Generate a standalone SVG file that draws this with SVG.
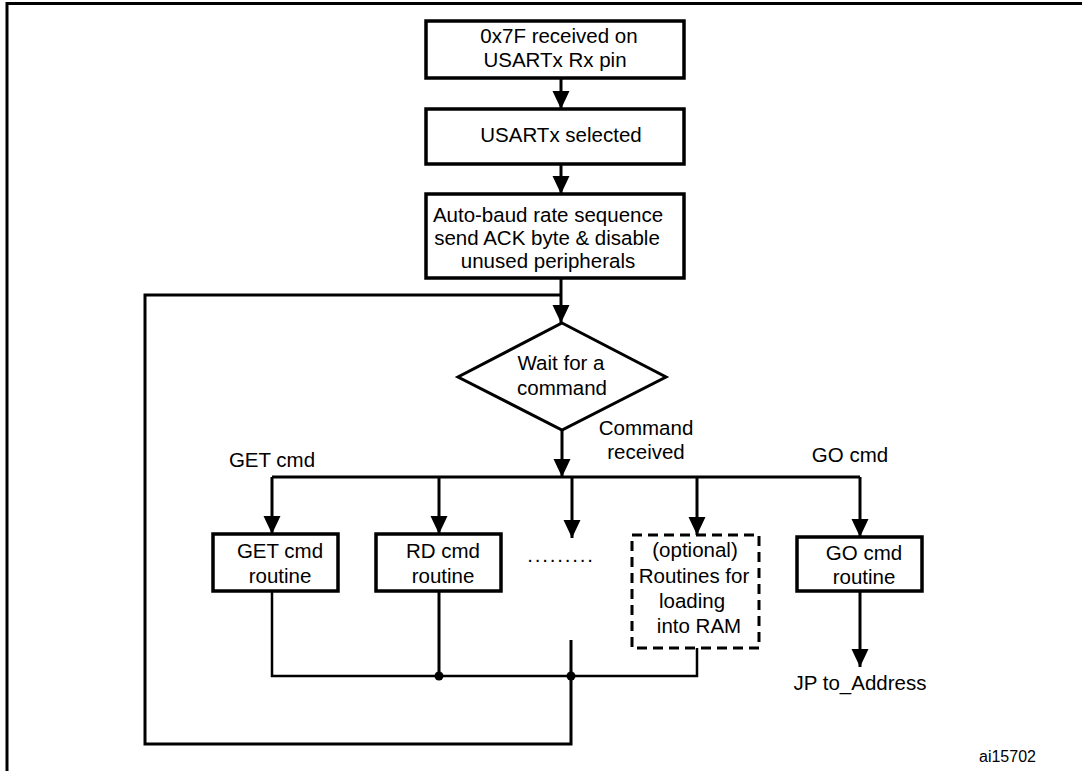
<svg xmlns="http://www.w3.org/2000/svg" width="1082" height="771" viewBox="0 0 1082 771">
<style>
.box{fill:#fff;stroke:#000;stroke-width:3.5}
.dash{fill:#fff;stroke:#000;stroke-width:3;stroke-dasharray:10 6}
.ln{fill:none;stroke:#000;stroke-width:3}
.thin{fill:none;stroke:#000;stroke-width:2.5}
.t{font-family:"Liberation Sans",Arial,sans-serif;font-size:20.5px;fill:#000;text-anchor:middle}
.s{font-family:"Liberation Sans",Arial,sans-serif;font-size:16px;fill:#000}
</style>
<defs>
<marker id="ah" markerUnits="userSpaceOnUse" markerWidth="20" markerHeight="18" refX="18" refY="9" orient="auto">
<path d="M0,0.5 L18,9 L0,17.5 z" fill="#000"/>
</marker>
</defs>
<rect width="1082" height="771" fill="#fff"/>
<g id="frame">
<path d="M7,771 V3.5 H1082" fill="none" stroke="#000" stroke-width="3"/>
</g>
<g id="connectors">
<line class="ln" x1="561" y1="78" x2="561" y2="109" marker-end="url(#ah)"/>
<line class="ln" x1="561" y1="164" x2="561" y2="194" marker-end="url(#ah)"/>
<line class="ln" x1="561" y1="278" x2="561" y2="323" marker-end="url(#ah)"/>
<path class="ln" d="M571,640 V744 H145 V295 H561"/>
<line class="ln" x1="562" y1="430" x2="562" y2="477" marker-end="url(#ah)"/>
<line class="ln" x1="272" y1="477" x2="860" y2="477"/>
<line class="ln" x1="272" y1="477" x2="272" y2="534" marker-end="url(#ah)"/>
<line class="ln" x1="439" y1="477" x2="439" y2="534" marker-end="url(#ah)"/>
<line class="ln" x1="572" y1="477" x2="572" y2="538" marker-end="url(#ah)"/>
<line class="ln" x1="697" y1="477" x2="697" y2="535" marker-end="url(#ah)"/>
<line class="ln" x1="860" y1="477" x2="860" y2="537" marker-end="url(#ah)"/>
<path class="thin" d="M272,591 V676 H697 V648"/>
<line class="ln" x1="439" y1="591" x2="439" y2="676"/>
<circle cx="439" cy="676" r="4.5" fill="#000"/>
<circle cx="571" cy="676" r="4.5" fill="#000"/>
<line class="ln" x1="860" y1="591" x2="860" y2="667" marker-end="url(#ah)"/>
</g>
<g id="n-rx">
<rect class="box" x="426" y="21" width="258" height="57"/>
<text class="t" x="559" y="43">0x7F received on</text>
<text class="t" x="555" y="67">USARTx Rx pin</text>
</g>
<g id="n-sel">
<rect class="box" x="426" y="109" width="258" height="55"/>
<text class="t" x="561" y="142">USARTx selected</text>
</g>
<g id="n-auto">
<rect class="box" x="426" y="194" width="258" height="84"/>
<text class="t" x="548" y="222">Auto-baud rate sequence</text>
<text class="t" x="547" y="245">send ACK byte &amp; disable</text>
<text class="t" x="548" y="268">unused peripherals</text>
</g>
<g id="n-wait">
<polygon points="562,323 666,377 562,430 458,377" fill="#fff" stroke="#000" stroke-width="3"/>
<text class="t" x="561" y="370">Wait for a</text>
<text class="t" x="562" y="395">command</text>
</g>
<g id="labels">
<text class="t" x="646" y="435">Command</text>
<text class="t" x="646" y="459">received</text>
<text class="t" x="272" y="467">GET cmd</text>
<text class="t" x="850" y="462">GO cmd</text>
<text class="t" x="860" y="690">JP to_Address</text>
<text class="t" x="561" y="562" letter-spacing="1.8">.........</text>
</g>
<g id="n-get">
<rect class="box" x="213" y="534" width="125" height="57"/>
<text class="t" x="280" y="558">GET cmd</text>
<text class="t" x="280" y="583">routine</text>
</g>
<g id="n-rd">
<rect class="box" x="376" y="534" width="125" height="57"/>
<text class="t" x="443" y="558">RD cmd</text>
<text class="t" x="443" y="583">routine</text>
</g>
<g id="n-opt">
<rect class="dash" x="632" y="535" width="127" height="113"/>
<text class="t" x="695" y="557">(optional)</text>
<text class="t" x="694" y="583">Routines for</text>
<text class="t" x="692" y="608">loading</text>
<text class="t" x="699" y="633">into RAM</text>
</g>
<g id="n-go">
<rect class="box" x="797" y="537" width="125" height="54"/>
<text class="t" x="864" y="560">GO cmd</text>
<text class="t" x="864" y="584">routine</text>
</g>
<text class="s" x="979" y="762">ai15702</text>
</svg>
